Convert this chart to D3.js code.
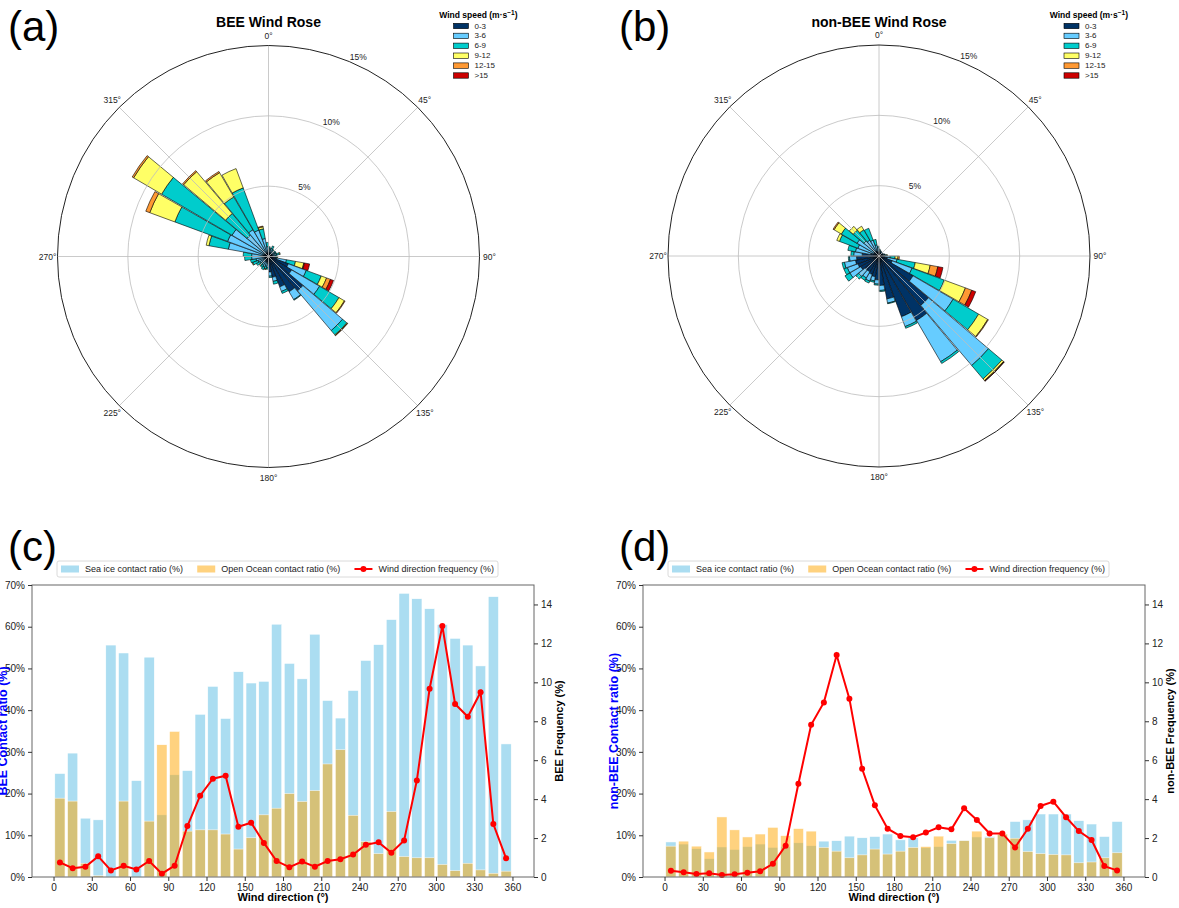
<!DOCTYPE html>
<html>
<head>
<meta charset="utf-8">
<script src="https://cdn.jsdelivr.net/npm/d3@7"></script>
<style>
  body { margin: 0; background: #fff; }
  svg { font-family: "Liberation Sans", Arial, sans-serif; }
</style>
</head>
<body>
<svg id="fig" width="1179" height="908"></svg>
<script>
// direction sectors (deg, centre of each 10 deg bin)
var dirs = [5, 15, 25, 35, 45, 55, 65, 75, 85, 95, 105, 115, 125, 135, 145, 155, 165, 175,
            185, 195, 205, 215, 225, 235, 245, 255, 265, 275, 285, 295, 305, 315, 325, 335, 345, 355];

var speedLabels = ['0-3', '3-6', '6-9', '9-12', '12-15', '>15'];
var speedColors = ['#003366', '#66CCFF', '#00CCCC', '#FFFF66', '#FF9933', '#CC0000'];

// BEE wind rose, % per sector for each speed class
var bee0_3   = [0.3, 0.3, 0.3, 0.3, 0.2, 0.3, 0.3, 0.3, 0.3, 0.3, 0.6, 1.5, 1.9, 3.2, 2.9, 2.3, 1.5, 1.1,
                0.5, 0.4, 0.4, 0.4, 0.3, 0.3, 0.3, 0.3, 0.3, 0.3, 0.4, 0.3, 0.3, 0.3, 0.3, 0.3, 0.3, 0.3];
var bee3_6   = [0.3, 0.2, 0.3, 0.2, 0.1, 0.2, 0.2, 0.3, 0.2, 0.2, 0.7, 1.36, 2.3, 3.7, 0.65, 0.35, 0.3, 0.3,
                0.3, 0.3, 0.4, 0.3, 0.3, 0.4, 0.5, 0.6, 0.9, 0.9, 2.5, 2.8, 2.7, 1.7, 1.9, 1.7, 1.0, 0.4];
var bee6_9   = [0.1, 0.1, 0.2, 0.1, 0.1, 0.1, 0.1, 0.2, 0.1, 0.1, 0.65, 1.14, 1.6, 0.4, 0.05, 0.15, 0.2, 0.1,
                0.1, 0.2, 0.2, 0.2, 0.2, 0.3, 0.4, 0.4, 0.5, 0.6, 1.4, 4.0, 5.8, 2.0, 2.7, 3.2, 0.7, 0.3];
var bee9_12  = [0, 0, 0, 0, 0, 0, 0, 0.05, 0, 0.05, 0.6, 0.4, 0.45, 0.05, 0, 0, 0, 0,
                0, 0.05, 0, 0, 0.05, 0, 0.05, 0, 0, 0, 0.2, 1.9, 2.3, 3.9, 2.0, 1.46, 0.15, 0];
var bee12_15 = [0, 0, 0, 0, 0, 0, 0, 0, 0, 0, 0.05, 0.3, 0.05, 0.03, 0, 0, 0, 0,
                0, 0, 0, 0, 0, 0, 0, 0, 0, 0, 0, 0.3, 0.12, 0.1, 0.1, 0, 0.05, 0];
var bee15    = [0, 0, 0, 0, 0, 0, 0, 0, 0, 0, 0.37, 0.23, 0, 0, 0, 0, 0, 0,
                0, 0, 0, 0, 0, 0, 0, 0, 0, 0, 0, 0, 0, 0, 0, 0, 0, 0];

// non-BEE wind rose
var non0_3   = [0.3, 0.25, 0.25, 0.25, 0.2, 0.2, 0.25, 0.3, 0.3, 0.4, 0.6, 1.0, 2.8, 4.6, 5.3, 4.6, 3.1, 2.1,
                1.7, 1.5, 1.4, 1.3, 1.3, 1.5, 1.6, 1.7, 1.6, 1.2, 0.6, 0.4, 0.4, 0.4, 0.4, 0.4, 0.3, 0.3];
var non3_6   = [0.15, 0.1, 0.1, 0.1, 0.1, 0.1, 0.1, 0.1, 0.15, 0.4, 0.7, 1.5, 3.3, 5.6, 3.4, 0.75, 0.3, 0.35,
                0.3, 0.3, 0.5, 0.5, 0.6, 0.9, 0.8, 0.8, 0.5, 0.6, 1.1, 1.2, 1.4, 1.0, 0.9, 0.8, 0.5, 0.3];
var non6_9   = [0.05, 0.05, 0, 0, 0, 0, 0, 0.05, 0.1, 0.35, 1.32, 2.45, 2.1, 1.25, 0.15, 0.13, 0.05, 0.08,
                0.08, 0.1, 0.15, 0.2, 0.26, 0.4, 0.26, 0.17, 0.08, 0.2, 0.55, 1.4, 1.3, 1.0, 0.85, 0.9, 0.4, 0.1];
var non9_12  = [0, 0, 0, 0, 0, 0, 0, 0, 0.05, 0.2, 1.08, 1.6, 0.75, 0.15, 0, 0, 0, 0,
                0, 0, 0, 0, 0, 0, 0, 0, 0, 0, 0, 0.2, 0.6, 0.36, 0.3, 0, 0, 0];
var non12_15 = [0, 0, 0, 0, 0, 0, 0, 0, 0, 0.1, 0.55, 0.48, 0.05, 0.05, 0, 0, 0, 0,
                0, 0, 0, 0, 0, 0, 0, 0, 0, 0, 0, 0, 0.08, 0, 0, 0, 0, 0];
var non15    = [0, 0, 0, 0, 0, 0, 0, 0, 0, 0, 0.37, 0.3, 0, 0.02, 0, 0, 0, 0,
                0, 0, 0, 0, 0, 0, 0, 0, 0, 0, 0, 0, 0, 0, 0, 0, 0, 0];

// contact ratios (%) and wind direction frequency (%)
var beeIce   = [24.8, 29.7, 14.1, 13.7, 55.6, 53.7, 23.1, 52.7, 14.9, 24.5, 25.5, 39.0, 45.7, 38.0, 49.2, 46.5, 46.9, 60.6,
                51.2, 47.5, 58.2, 42.3, 38.1, 44.7, 51.9, 55.7, 61.7, 68.0, 66.7, 64.3, 60.5, 57.2, 55.6, 50.6, 67.2, 31.9];
var beeOcean = [18.9, 18.2, 3.3, 0.3, 0, 18.2, 0, 13.4, 31.7, 34.9, 11.0, 11.3, 11.3, 10.3, 6.7, 9.4, 14.9, 16.5,
                20.0, 18.1, 20.7, 27.1, 30.5, 14.8, 8.5, 5.6, 15.7, 4.9, 4.6, 4.6, 3.0, 1.5, 3.3, 1.7, 0.9, 1.4];
var beeFreq  = [0.75, 0.45, 0.53, 1.06, 0.34, 0.58, 0.39, 0.82, 0.17, 0.58, 2.62, 4.18, 5.05, 5.2, 2.58, 2.79, 1.75, 0.82,
                0.5, 0.79, 0.53, 0.82, 0.91, 1.15, 1.66, 1.78, 1.25, 1.88, 4.96, 9.67, 12.9, 8.89, 8.23, 9.49, 2.72, 0.96];

var nonIce   = [8.4, 7.9, 6.8, 4.4, 7.2, 6.6, 7.3, 7.9, 7.1, 7.3, 8.2, 7.5, 8.6, 8.7, 9.8, 9.4, 9.7, 10.3,
                8.9, 9.4, 7.0, 7.3, 8.8, 8.8, 9.6, 9.7, 10.2, 13.3, 13.7, 15.1, 15.1, 15.1, 13.5, 12.7, 9.7, 13.3];
var nonOcean = [7.4, 8.6, 7.4, 6.0, 14.4, 11.3, 9.6, 10.3, 11.9, 9.9, 11.6, 11.0, 7.1, 6.2, 4.6, 5.3, 6.7, 5.5,
                6.2, 7.1, 7.3, 9.8, 8.0, 8.7, 11.0, 9.4, 10.3, 9.3, 6.1, 5.6, 5.4, 5.3, 3.4, 3.6, 4.6, 5.8];
var nonFreq  = [0.32, 0.24, 0.15, 0.19, 0.10, 0.14, 0.22, 0.29, 0.68, 1.61, 4.79, 7.82, 8.97, 11.40, 9.16, 5.56, 3.68, 2.48,
                2.1, 2.04, 2.28, 2.55, 2.45, 3.53, 2.93, 2.24, 2.24, 1.52, 2.48, 3.65, 3.87, 3.07, 2.36, 1.9, 0.56, 0.34];

var angleTicks = [0, 45, 90, 135, 180, 225, 270, 315];
var ringTicks = [5, 10, 15];
var xTicks = [0, 30, 60, 90, 120, 150, 180, 210, 240, 270, 300, 330, 360];
var pctTicks = [0, 10, 20, 30, 40, 50, 60, 70];
var freqTicks = [0, 2, 4, 6, 8, 10, 12, 14];

var svg = d3.select('#fig');

function drawRose(cx, cy, bins, title) {
  var r = d3.scaleLinear().domain([0, 15]).range([0, 211]);
  var arc = d3.arc();
  var half = 4.75 * Math.PI / 180;
  var g = svg.append('g').attr('transform', 'translate(' + cx + ',' + cy + ')');

  // stacked petals
  dirs.forEach(function(dir, i) {
    var base = 0;
    var a = dir * Math.PI / 180;
    bins.forEach(function(b, k) {
      var v = b[i];
      if (v <= 0) return;
      g.append('path')
        .attr('d', arc({innerRadius: r(base), outerRadius: r(base + v), startAngle: a - half, endAngle: a + half}))
        .attr('fill', speedColors[k])
        .attr('stroke', '#000')
        .attr('stroke-width', 0.6);
      base += v;
    });
  });

  // grid drawn over the petals
  angleTicks.forEach(function(t) {
    var a = t * Math.PI / 180;
    g.append('line')
      .attr('x1', 0).attr('y1', 0)
      .attr('x2', r(15) * Math.sin(a)).attr('y2', -r(15) * Math.cos(a))
      .attr('stroke', '#bdbdbd').attr('stroke-width', 0.8);
    g.append('text')
      .attr('x', 221 * Math.sin(a)).attr('y', -221 * Math.cos(a))
      .attr('text-anchor', 'middle').attr('dominant-baseline', 'central')
      .attr('font-size', 8.5).attr('fill', '#222')
      .text(t + '°');
  });
  ringTicks.forEach(function(v) {
    g.append('circle')
      .attr('r', r(v)).attr('fill', 'none')
      .attr('stroke', v === 15 ? '#222' : '#bdbdbd')
      .attr('stroke-width', v === 15 ? 1 : 0.8);
    var a = 22.5 * Math.PI / 180;
    g.append('text')
      .attr('x', r(v) * Math.sin(a) + 9).attr('y', -r(v) * Math.cos(a) - 5)
      .attr('text-anchor', 'middle').attr('dominant-baseline', 'central')
      .attr('font-size', 8.5).attr('fill', '#222')
      .text(v + '%');
  });

  svg.append('text')
    .attr('x', cx).attr('y', 27)
    .attr('text-anchor', 'middle')
    .attr('font-size', 14).attr('font-weight', 'bold')
    .text(title);

  // speed legend
  var lx = cx + 185;
  var lt = svg.append('text')
    .attr('x', cx + 249).attr('y', 18)
    .attr('text-anchor', 'end')
    .attr('font-size', 8.5).attr('font-weight', 'bold');
  lt.append('tspan').text('Wind speed (m·s');
  lt.append('tspan').attr('dy', -3).attr('font-size', 6.5).text('−1');
  lt.append('tspan').attr('dy', 3).text(')');
  speedLabels.forEach(function(s, k) {
    var yy = 26 + k * 9.9;
    svg.append('rect')
      .attr('x', lx).attr('y', yy - 2.7)
      .attr('width', 15).attr('height', 5.4)
      .attr('fill', speedColors[k]).attr('stroke', '#000').attr('stroke-width', 0.6);
    svg.append('text')
      .attr('x', lx + 21).attr('y', yy)
      .attr('dominant-baseline', 'central')
      .attr('font-size', 8).attr('fill', '#222')
      .text(s);
  });
}

function drawBars(left, ice, ocean, freq, leftLabel, rightLabel) {
  var right = left + 502, top = 585, bottom = 877;
  var x = d3.scaleLinear().domain([-16.9, 376.9]).range([left, right]);
  var yL = d3.scaleLinear().domain([0, 70]).range([bottom, top]);
  var yR = d3.scaleLinear().domain([0, 15]).range([bottom, top]);
  var bw = x(8) - x(0);
  var g = svg.append('g');

  g.selectAll('rect.ice').data(dirs).enter().append('rect')
    .attr('x', function(d) { return x(d - 4); })
    .attr('y', function(d, i) { return yL(ice[i]); })
    .attr('width', bw)
    .attr('height', function(d, i) { return bottom - yL(ice[i]); })
    .attr('fill', '#87CEEB').attr('fill-opacity', 0.7)
    .attr('stroke', '#fff').attr('stroke-width', 0.5);

  g.selectAll('rect.ocean').data(dirs).enter().append('rect')
    .attr('x', function(d) { return x(d - 4); })
    .attr('y', function(d, i) { return yL(ocean[i]); })
    .attr('width', bw)
    .attr('height', function(d, i) { return bottom - yL(ocean[i]); })
    .attr('fill', '#FFA500').attr('fill-opacity', 0.5)
    .attr('stroke', '#fff').attr('stroke-width', 0.5);

  var line = d3.line()
    .x(function(d) { return x(d); })
    .y(function(d, i) { return yR(freq[i]); });
  g.append('path').datum(dirs)
    .attr('d', line).attr('fill', 'none')
    .attr('stroke', '#ff0000').attr('stroke-width', 2);
  g.selectAll('circle.pt').data(dirs).enter().append('circle')
    .attr('cx', function(d) { return x(d); })
    .attr('cy', function(d, i) { return yR(freq[i]); })
    .attr('r', 3).attr('fill', '#ff0000');

  // frame
  g.append('rect')
    .attr('x', left).attr('y', top)
    .attr('width', right - left).attr('height', bottom - top)
    .attr('fill', 'none').attr('stroke', '#666').attr('stroke-width', 1);

  var ax = g.append('g').attr('transform', 'translate(0,' + bottom + ')')
    .call(d3.axisBottom(x).tickValues(xTicks).tickSize(4).tickPadding(3).tickSizeOuter(0));
  var ayl = g.append('g').attr('transform', 'translate(' + left + ',0)')
    .call(d3.axisLeft(yL).tickValues(pctTicks).tickSize(4).tickPadding(3).tickSizeOuter(0)
      .tickFormat(function(d) { return d + '%'; }));
  var ayr = g.append('g').attr('transform', 'translate(' + right + ',0)')
    .call(d3.axisRight(yR).tickValues(freqTicks).tickSize(4).tickPadding(3).tickSizeOuter(0));
  [ax, ayl, ayr].forEach(function(a) {
    a.select('.domain').remove();
    a.selectAll('line').attr('stroke', '#333');
    a.selectAll('text').attr('font-size', 10).attr('fill', '#222')
      .attr('font-family', '"Liberation Sans", Arial, sans-serif');
  });

  svg.append('text')
    .attr('x', (left + right) / 2).attr('y', 901)
    .attr('text-anchor', 'middle')
    .attr('font-size', 11).attr('font-weight', 'bold')
    .text('Wind direction (°)');
  svg.append('text')
    .attr('transform', 'translate(' + (left - 25) + ',731) rotate(-90)')
    .attr('text-anchor', 'middle')
    .attr('font-size', 12.5).attr('font-weight', 'bold').attr('fill', '#0000ff')
    .text(leftLabel);
  svg.append('text')
    .attr('transform', 'translate(' + (right + 29) + ',731) rotate(-90)')
    .attr('text-anchor', 'middle')
    .attr('font-size', 11).attr('font-weight', 'bold')
    .text(rightLabel);

  // legend above the axes
  var boxL = left + 25, boxW = 441, boxT = 561, boxH = 16;
  var lg = svg.append('g');
  lg.append('rect')
    .attr('x', boxL).attr('y', boxT).attr('width', boxW).attr('height', boxH)
    .attr('rx', 2).attr('fill', '#fff').attr('stroke', '#d0d0d0').attr('stroke-width', 0.8);
  var names = ['Sea ice contact ratio (%)', 'Open Ocean contact ratio (%)', 'Wind direction frequency (%)'];
  var texts = names.map(function(n) {
    return lg.append('text').attr('y', boxT + boxH / 2).attr('dominant-baseline', 'central')
      .attr('font-size', 9).attr('fill', '#222').text(n);
  });
  var widths = texts.map(function(t) { return t.node().getComputedTextLength(); });
  var hl = 18, hp = 6, pad = 4;
  var content = d3.sum(widths) + 3 * (hl + hp);
  var gap = (boxW - 2 * pad - content) / 2;
  var cx = boxL + pad;
  var cy = boxT + boxH / 2;
  texts.forEach(function(t, k) {
    if (k === 0 || k === 1) {
      lg.append('rect').attr('x', cx).attr('y', cy - 3.5).attr('width', hl).attr('height', 7)
        .attr('fill', k === 0 ? '#87CEEB' : '#FFA500').attr('fill-opacity', k === 0 ? 0.7 : 0.5);
    } else {
      lg.append('line').attr('x1', cx).attr('x2', cx + hl).attr('y1', cy).attr('y2', cy)
        .attr('stroke', '#ff0000').attr('stroke-width', 2);
      lg.append('circle').attr('cx', cx + hl / 2).attr('cy', cy).attr('r', 3).attr('fill', '#ff0000');
    }
    t.attr('x', cx + hl + hp);
    cx += hl + hp + widths[k] + gap;
  });
}

drawRose(268.5, 256.5, [bee0_3, bee3_6, bee6_9, bee9_12, bee12_15, bee15], 'BEE Wind Rose');
drawRose(879, 256, [non0_3, non3_6, non6_9, non9_12, non12_15, non15], 'non-BEE Wind Rose');
drawBars(32, beeIce, beeOcean, beeFreq, 'BEE Contact ratio (%)', 'BEE Frequency (%)');
drawBars(643, nonIce, nonOcean, nonFreq, 'non-BEE Contact ratio (%)', 'non-BEE Frequency (%)');

// panel letters
[['(a)', 8, 41], ['(b)', 619, 41], ['(c)', 8, 561], ['(d)', 619, 561]].forEach(function(p) {
  svg.append('text').attr('x', p[1]).attr('y', p[2])
    .attr('font-size', 42).attr('fill', '#000').text(p[0]);
});
</script>
</body>
</html>
